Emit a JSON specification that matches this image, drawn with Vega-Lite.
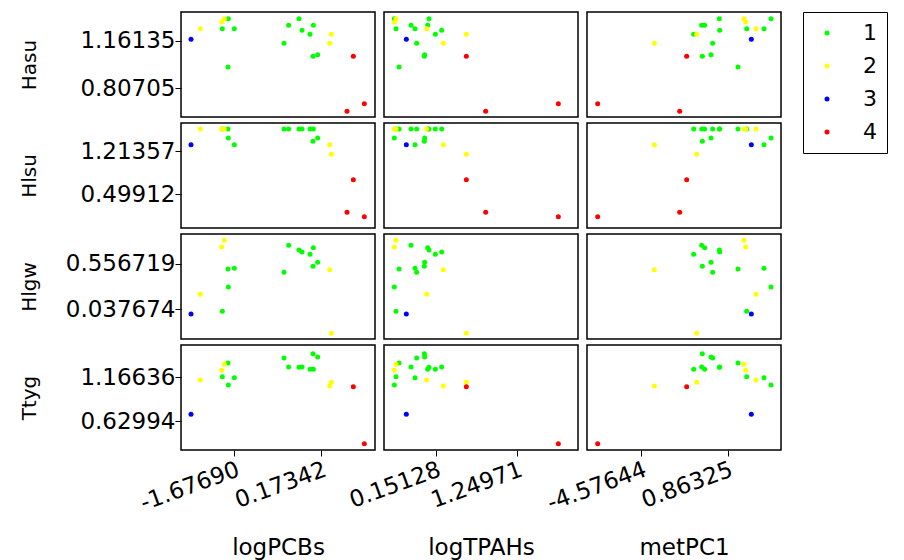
{
  "$schema": "https://vega.github.io/schema/vega-lite/v6.json",
  "padding": {"left": 18, "top": 11, "right": 0, "bottom": 0},
  "data": {"values": [
    {"id":"G1","group":"1","logPCBs":-0.52134,"logTPAHs":-0.18049,"metPC1":-0.77490,"Hasu":1.27862,"Hlsu":1.58464,"Hlgw":0.76509,"Ttyg":1.28736},
    {"id":"G2","group":"1","logPCBs":0.00326,"logTPAHs":0.04368,"metPC1":-0.58587,"Hasu":1.27862,"Hlsu":1.58464,"Hlgw":0.73857,"Ttyg":1.25912},
    {"id":"G3","group":"1","logPCBs":-0.30158,"logTPAHs":0.06161,"metPC1":0.33826,"Hasu":1.32852,"Hlsu":1.58464,"Hlgw":0.71205,"Ttyg":1.28332},
    {"id":"G4","group":"1","logPCBs":-0.23777,"logTPAHs":0.23198,"metPC1":0.35927,"Hasu":1.24119,"Hlsu":1.58464,"Hlgw":0.68932,"Ttyg":1.28736},
    {"id":"G5","group":"1","logPCBs":-0.06763,"logTPAHs":0.14680,"metPC1":-1.27897,"Hasu":1.21125,"Hlsu":1.58464,"Hlgw":0.66280,"Ttyg":1.25912},
    {"id":"G6","group":"1","logPCBs":0.09543,"logTPAHs":0.00333,"metPC1":-0.18681,"Hasu":1.05905,"Hlsu":1.43511,"Hlgw":0.57187,"Ttyg":1.40835},
    {"id":"G7","group":"1","logPCBs":-0.00383,"logTPAHs":-0.00116,"metPC1":-0.73289,"Hasu":1.04658,"Hlsu":1.37972,"Hlgw":0.52641,"Ttyg":1.44868},
    {"id":"G8","group":"1","logPCBs":-1.67690,"logTPAHs":-0.12669,"metPC1":3.15266,"Hasu":1.25367,"Hlsu":1.32434,"Hlgw":0.50368,"Ttyg":1.15829},
    {"id":"G9","group":"1","logPCBs":-1.81160,"logTPAHs":-0.34189,"metPC1":1.51443,"Hasu":0.96673,"Hlsu":1.58464,"Hlgw":0.49610,"Ttyg":1.33575},
    {"id":"G10","group":"1","logPCBs":-0.62059,"logTPAHs":-0.10427,"metPC1":-0.08180,"Hasu":1.14388,"Hlsu":1.58464,"Hlgw":0.45822,"Ttyg":1.39625},
    {"id":"G11","group":"1","logPCBs":-1.80451,"logTPAHs":-0.40466,"metPC1":3.59373,"Hasu":1.32852,"Hlsu":1.43511,"Hlgw":0.29152,"Ttyg":1.06956},
    {"id":"G12","group":"1","logPCBs":-1.93211,"logTPAHs":-0.38224,"metPC1":2.06051,"Hasu":1.25367,"Hlsu":1.58464,"Hlgw":0.01495,"Ttyg":1.17039},
    {"id":"YA","group":"2","logPCBs":-1.88958,"logTPAHs":-0.38224,"metPC1":1.89248,"Hasu":1.32852,"Hlsu":1.58464,"Hlgw":0.82192,"Ttyg":1.31962},
    {"id":"YB","group":"2","logPCBs":-1.94629,"logTPAHs":-0.40466,"metPC1":1.99750,"Hasu":1.30357,"Hlsu":1.58464,"Hlgw":0.74615,"Ttyg":1.24702},
    {"id":"YC","group":"2","logPCBs":0.35064,"logTPAHs":0.25440,"metPC1":-3.75732,"Hasu":1.14388,"Hlsu":1.32434,"Hlgw":0.48853,"Ttyg":1.05746},
    {"id":"YD","group":"2","logPCBs":-2.40001,"logTPAHs":0.03023,"metPC1":2.64859,"Hasu":1.25367,"Hlsu":1.58464,"Hlgw":0.20817,"Ttyg":1.13006},
    {"id":"YE","group":"2","logPCBs":0.38609,"logTPAHs":0.56375,"metPC1":-1.08994,"Hasu":1.21125,"Hlsu":1.16372,"Hlgw":-0.23510,"Ttyg":1.10183},
    {"id":"B","group":"3","logPCBs":-2.59851,"logTPAHs":-0.24326,"metPC1":2.35455,"Hasu":1.17383,"Hlsu":1.32434,"Hlgw":-0.01536,"Ttyg":0.71464},
    {"id":"RA","group":"4","logPCBs":0.85398,"logTPAHs":0.56375,"metPC1":-1.72003,"Hasu":1.04658,"Hlsu":0.74281,"Hlgw":null,"Ttyg":1.04940},
    {"id":"RB","group":"4","logPCBs":1.08793,"logTPAHs":1.80117,"metPC1":-7.32783,"Hasu":0.69227,"Hlsu":0.12804,"Hlgw":null,"Ttyg":0.35972},
    {"id":"RC","group":"4","logPCBs":0.71928,"logTPAHs":0.82379,"metPC1":-2.16109,"Hasu":0.63488,"Hlsu":0.20004,"Hlgw":null,"Ttyg":null}
  ]},
  "config": {
    "font": "DejaVu Sans",
    "view": {"stroke": "black", "strokeWidth": 1.5},
    "axis": {"grid": false, "domain": false, "tickColor": "black", "tickSize": 6, "tickWidth": 1, "labelColor": "black", "labelFontSize": 23, "labelFont": "DejaVu Sans", "titleFont": "DejaVu Sans", "titleFontSize": 23, "titleFontWeight": "normal", "titleColor": "black", "labelPadding": 2, "titlePadding": 0},
    "axisX": {"minExtent": 86, "maxExtent": 86, "labelAngle": -20, "labelAlign": "right", "labelBaseline": "top"},
    "axisY": {"minExtent": 142, "maxExtent": 142, "titleFontSize": 20, "labelPadding": 0},
    "legend": {"orient": "right", "offset": 21, "strokeColor": "black", "padding": 10, "symbolType": "circle", "symbolSize": 25, "symbolStrokeWidth": 0, "labelFontSize": 22, "labelFont": "DejaVu Sans", "labelColor": "black", "rowPadding": 11, "labelOffset": 25, "symbolOffset": 3}
  },
  "spacing": 4,
  "vconcat": [
    {"spacing": 9, "bounds": "flush", "hconcat": [
      {"width": 194, "height": 105, "mark": {"type": "circle", "size": 25, "opacity": 1},
       "encoding": {
         "x": {"field": "logPCBs", "type": "quantitative", "scale": {"domain": [-2.81119, 1.31478], "nice": false, "zero": false}, "axis": null},
         "y": {"field": "Hasu", "type": "quantitative", "scale": {"domain": [0.59247, 1.37842], "nice": false, "zero": false}, "axis": {"title": "Hasu", "values": [0.80705, 1.16135], "labelExpr": "replace(format(datum.value, '.5f'), '\u2212', '-')"}},
         "color": {"field": "group", "type": "nominal", "scale": {"domain": ["1","2","3","4"], "range": ["#00ff00","#ffff00","#0000ff","#ff0000"]}, "legend": {"title": null, "labelExpr": "datum.label + '      '"}}}},
      {"width": 194, "height": 105, "mark": {"type": "circle", "size": 25, "opacity": 1},
       "encoding": {
         "x": {"field": "logTPAHs", "type": "quantitative", "scale": {"domain": [-0.54365, 2.06569], "nice": false, "zero": false}, "axis": null},
         "y": {"field": "Hasu", "type": "quantitative", "scale": {"domain": [0.59247, 1.37842], "nice": false, "zero": false}, "axis": null},
         "color": {"field": "group", "type": "nominal"}}},
      {"width": 194, "height": 105, "mark": {"type": "circle", "size": 25, "opacity": 1},
       "encoding": {
         "x": {"field": "metPC1", "type": "quantitative", "scale": {"domain": [-7.99993, 4.22382], "nice": false, "zero": false}, "axis": null},
         "y": {"field": "Hasu", "type": "quantitative", "scale": {"domain": [0.59247, 1.37842], "nice": false, "zero": false}, "axis": null},
         "color": {"field": "group", "type": "nominal"}}}
    ]},
    {"spacing": 9, "bounds": "flush", "hconcat": [
      {"width": 194, "height": 105, "mark": {"type": "circle", "size": 25, "opacity": 1},
       "encoding": {
         "x": {"field": "logPCBs", "type": "quantitative", "scale": {"domain": [-2.81119, 1.31478], "nice": false, "zero": false}, "axis": null},
         "y": {"field": "Hlsu", "type": "quantitative", "scale": {"domain": [-0.06026, 1.68433], "nice": false, "zero": false}, "axis": {"title": "Hlsu", "values": [0.49912, 1.21357], "labelExpr": "replace(format(datum.value, '.5f'), '\u2212', '-')"}},
         "color": {"field": "group", "type": "nominal"}}},
      {"width": 194, "height": 105, "mark": {"type": "circle", "size": 25, "opacity": 1},
       "encoding": {
         "x": {"field": "logTPAHs", "type": "quantitative", "scale": {"domain": [-0.54365, 2.06569], "nice": false, "zero": false}, "axis": null},
         "y": {"field": "Hlsu", "type": "quantitative", "scale": {"domain": [-0.06026, 1.68433], "nice": false, "zero": false}, "axis": null},
         "color": {"field": "group", "type": "nominal"}}},
      {"width": 194, "height": 105, "mark": {"type": "circle", "size": 25, "opacity": 1},
       "encoding": {
         "x": {"field": "metPC1", "type": "quantitative", "scale": {"domain": [-7.99993, 4.22382], "nice": false, "zero": false}, "axis": null},
         "y": {"field": "Hlsu", "type": "quantitative", "scale": {"domain": [-0.06026, 1.68433], "nice": false, "zero": false}, "axis": null},
         "color": {"field": "group", "type": "nominal"}}}
    ]},
    {"spacing": 9, "bounds": "flush", "hconcat": [
      {"width": 194, "height": 105, "mark": {"type": "circle", "size": 25, "opacity": 1},
       "encoding": {
         "x": {"field": "logPCBs", "type": "quantitative", "scale": {"domain": [-2.81119, 1.31478], "nice": false, "zero": false}, "axis": null},
         "y": {"field": "Hlgw", "type": "quantitative", "scale": {"domain": [-0.29950, 0.89391], "nice": false, "zero": false}, "axis": {"title": "Hlgw", "values": [0.037674, 0.556719], "labelExpr": "replace(format(datum.value, '.6f'), '\u2212', '-')"}},
         "color": {"field": "group", "type": "nominal"}}},
      {"width": 194, "height": 105, "mark": {"type": "circle", "size": 25, "opacity": 1},
       "encoding": {
         "x": {"field": "logTPAHs", "type": "quantitative", "scale": {"domain": [-0.54365, 2.06569], "nice": false, "zero": false}, "axis": null},
         "y": {"field": "Hlgw", "type": "quantitative", "scale": {"domain": [-0.29950, 0.89391], "nice": false, "zero": false}, "axis": null},
         "color": {"field": "group", "type": "nominal"}}},
      {"width": 194, "height": 105, "mark": {"type": "circle", "size": 25, "opacity": 1},
       "encoding": {
         "x": {"field": "metPC1", "type": "quantitative", "scale": {"domain": [-7.99993, 4.22382], "nice": false, "zero": false}, "axis": null},
         "y": {"field": "Hlgw", "type": "quantitative", "scale": {"domain": [-0.29950, 0.89391], "nice": false, "zero": false}, "axis": null},
         "color": {"field": "group", "type": "nominal"}}}
    ]},
    {"spacing": 9, "bounds": "flush", "hconcat": [
      {"width": 194, "height": 105, "mark": {"type": "circle", "size": 25, "opacity": 1},
       "encoding": {
         "x": {"field": "logPCBs", "type": "quantitative", "scale": {"domain": [-2.81119, 1.31478], "nice": false, "zero": false}, "axis": {"title": "logPCBs", "values": [-1.67690, 0.17342], "labelExpr": "replace(format(datum.value, '.5f'), '\u2212', '-')"}},
         "y": {"field": "Ttyg", "type": "quantitative", "scale": {"domain": [0.28309, 1.55355], "nice": false, "zero": false}, "axis": {"title": "Ttyg", "values": [0.62994, 1.16636], "labelExpr": "replace(format(datum.value, '.5f'), '\u2212', '-')"}},
         "color": {"field": "group", "type": "nominal"}}},
      {"width": 194, "height": 105, "mark": {"type": "circle", "size": 25, "opacity": 1},
       "encoding": {
         "x": {"field": "logTPAHs", "type": "quantitative", "scale": {"domain": [-0.54365, 2.06569], "nice": false, "zero": false}, "axis": {"title": "logTPAHs", "values": [0.15128, 1.24971], "labelExpr": "replace(format(datum.value, '.5f'), '\u2212', '-')"}},
         "y": {"field": "Ttyg", "type": "quantitative", "scale": {"domain": [0.28309, 1.55355], "nice": false, "zero": false}, "axis": null},
         "color": {"field": "group", "type": "nominal"}}},
      {"width": 194, "height": 105, "mark": {"type": "circle", "size": 25, "opacity": 1},
       "encoding": {
         "x": {"field": "metPC1", "type": "quantitative", "scale": {"domain": [-7.99993, 4.22382], "nice": false, "zero": false}, "axis": {"title": "metPC1", "values": [-4.57644, 0.86325], "labelExpr": "replace(format(datum.value, '.5f'), '\u2212', '-')"}},
         "y": {"field": "Ttyg", "type": "quantitative", "scale": {"domain": [0.28309, 1.55355], "nice": false, "zero": false}, "axis": null},
         "color": {"field": "group", "type": "nominal"}}}
    ]}
  ]
}
